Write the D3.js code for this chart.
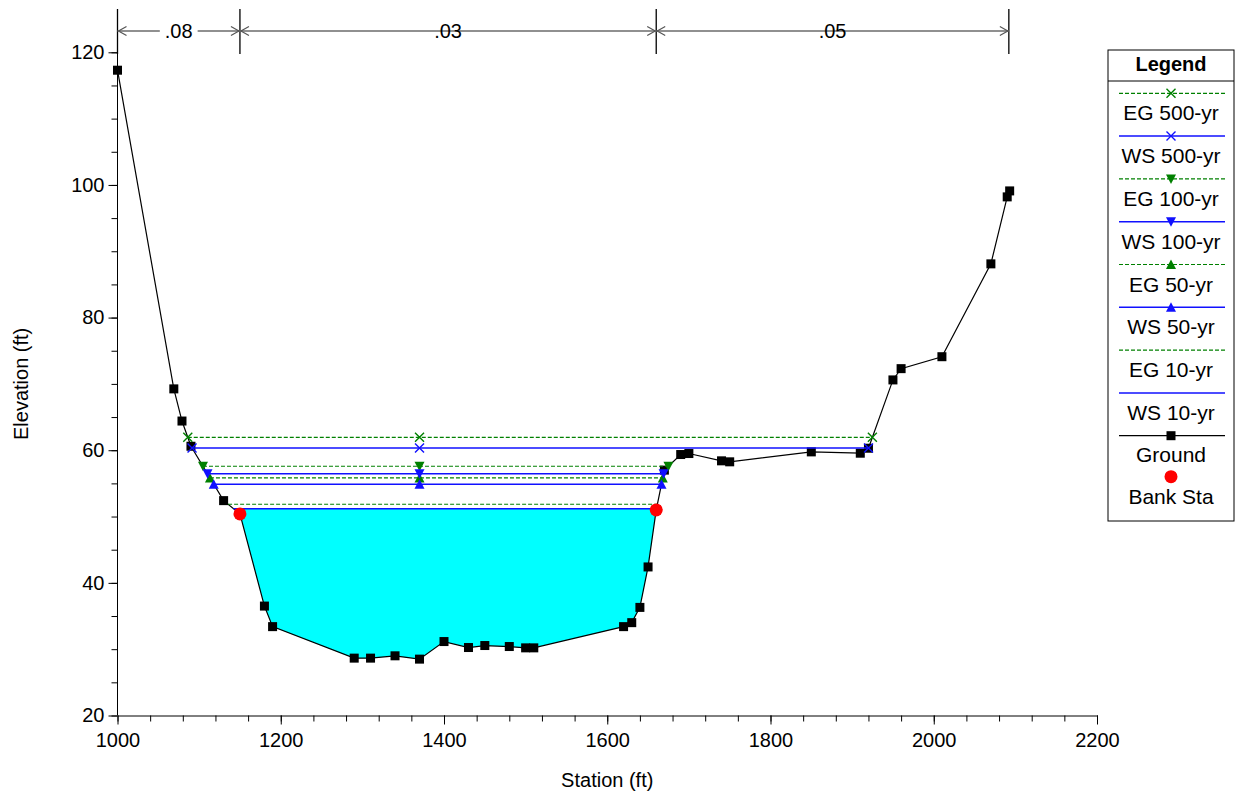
<!DOCTYPE html>
<html><head><meta charset="utf-8">
<script src="https://cdn.jsdelivr.net/npm/d3@7"></script>
<style>
html,body{margin:0;padding:0;background:#fff;}
svg{display:block;font-family:Arial,"Liberation Sans",sans-serif;}
</style></head>
<body><svg id="c" width="1235" height="794"></svg>
<script>
// ---- data ----
const groundSta  = [1000, 1069, 1079, 1090, 1130, 1150, 1180, 1190, 1290, 1310, 1340, 1370, 1400, 1430, 1450, 1480, 1500, 1510, 1620, 1630, 1640, 1650, 1660, 1670, 1690, 1700, 1740, 1750, 1850, 1910, 1920, 1950, 1960, 2010, 2070, 2090, 2093];
const groundElev = [117.3, 69.25, 64.4, 60.6, 52.4, 50.4, 36.5, 33.4, 28.65, 28.65, 29.0, 28.5, 31.15, 30.25, 30.55, 30.4, 30.2, 30.2, 33.4, 34.0, 36.3, 42.4, 51.0, 57.0, 59.35, 59.5, 58.4, 58.25, 59.75, 59.55, 60.3, 70.6, 72.3, 74.1, 88.1, 98.2, 99.1];
const bankSta  = [1150, 1660];
const bankElev = [50.4, 51.0];
const profiles = ["500-yr", "100-yr", "50-yr", "10-yr"];
const wsElev = [60.33, 56.44, 54.88, 51.19];
const egElev = [61.95, 57.58, 55.83, 51.85];
const midStation = 1370;
const nValues   = [".08", ".03", ".05"];
const nStations = [1000, 1150, 1660, 2092];
const xTicks = [1000, 1200, 1400, 1600, 1800, 2000, 2200];
const yTicks = [20, 40, 60, 80, 100, 120];

// ---- setup ----
const svg = d3.select("#c");
const x = d3.scaleLinear().domain([1000, 2200]).range([117.5, 1097]);
const y = d3.scaleLinear().domain([20, 120]).range([715.5, 52.3]);
const FONT = 20;
const EG = "#008000", WS = "#1010ff";
const markerType = {"500-yr": "x", "100-yr": "down", "50-yr": "up", "10-yr": null};

// crossing of a level with ground, walking out from thalweg
const thal = groundElev.indexOf(d3.min(groundElev));
function crossing(L) {
  let i = thal;
  while (i > 0 && groundElev[i - 1] <= L) i--;
  let left = groundSta[i];
  if (i > 0) {
    const a = i - 1, b = i;
    left = groundSta[a] + (groundElev[a] - L) / (groundElev[a] - groundElev[b]) * (groundSta[b] - groundSta[a]);
  }
  let j = thal;
  while (j < groundSta.length - 1 && groundElev[j + 1] <= L) j++;
  let right = groundSta[j];
  if (j < groundSta.length - 1) {
    const a = j, b = j + 1;
    right = groundSta[a] + (L - groundElev[a]) / (groundElev[b] - groundElev[a]) * (groundSta[b] - groundSta[a]);
  }
  return {left, right, i, j};
}

// ---- axes ----
const xMinor = d3.range(1000, 2201, 40);
const yMinor = d3.range(20, 121, 5);
const gx = svg.append("g").attr("transform", `translate(0,${y(20)})`);
gx.call(d3.axisBottom(x).tickValues(xMinor).tickSize(6).tickSizeOuter(0).tickFormat(""));
gx.call(g => g.select(".domain").remove());
const gx2 = svg.append("g").attr("transform", `translate(0,${y(20)})`)
  .call(d3.axisBottom(x).tickValues(xTicks).tickSize(9).tickSizeOuter(0).tickPadding(8).tickFormat(d3.format("d")));
gx2.selectAll("text").attr("font-size", FONT).attr("fill", "#000").attr("font-family", "Arial, 'Liberation Sans', sans-serif");
svg.selectAll(".domain").attr("stroke", "#000");
svg.selectAll(".tick line").attr("stroke", "#000");

const gy = svg.append("g").attr("transform", `translate(${x(1000)},0)`)
  .call(d3.axisLeft(y).tickValues(yMinor).tickSize(6).tickSizeOuter(0).tickFormat(""));
gy.select(".domain").remove();
const gy2 = svg.append("g").attr("transform", `translate(${x(1000)},0)`)
  .call(d3.axisLeft(y).tickValues(yTicks).tickSize(9).tickSizeOuter(0).tickPadding(4).tickFormat(d3.format("d")));
gy2.select(".domain").remove();
gy2.selectAll("text").attr("font-size", FONT).attr("fill", "#000").attr("font-family", "Arial, 'Liberation Sans', sans-serif");
svg.selectAll(".tick line").attr("stroke", "#000");
svg.append("line").attr("x1", x(1000)).attr("x2", x(1000)).attr("y1", y(20)).attr("y2", 9)
  .attr("stroke", "#000").attr("stroke-width", 1);

svg.append("text").attr("x", (x(1000) + x(2200)) / 2).attr("y", 787).attr("text-anchor", "middle")
  .attr("font-size", FONT).text("Station (ft)");
svg.append("text").attr("transform", `translate(28,${(y(20) + y(120)) / 2}) rotate(-90)`)
  .attr("text-anchor", "middle").attr("font-size", FONT).text("Elevation (ft)");

// ---- water fill (lowest profile) ----
const lowIdx = profiles.length - 1;
{
  const L = wsElev[lowIdx];
  const c = crossing(L);
  const pts = [[c.left, L]];
  for (let k = c.i; k <= c.j; k++) pts.push([groundSta[k], groundElev[k]]);
  pts.push([c.right, L]);
  svg.append("path").attr("d", d3.line().x(d => x(d[0])).y(d => y(d[1]))(pts) + "Z")
    .attr("fill", "#00ffff").attr("stroke", "none");
}

// ---- ground ----
const gData = groundSta.map((s, k) => [s, groundElev[k]]);
svg.append("path").attr("d", d3.line().x(d => x(d[0])).y(d => y(d[1]))(gData))
  .attr("fill", "none").attr("stroke", "#000").attr("stroke-width", 1.2);
svg.selectAll("rect.gp").data(gData).enter().append("rect").attr("class", "gp")
  .attr("x", d => x(d[0]) - 4.5).attr("y", d => y(d[1]) - 4.5).attr("width", 9).attr("height", 9).attr("fill", "#000");

// ---- marker helper ----
function marker(g, type, cx, cy, color) {
  if (!type) return;
  if (type === "x") {
    g.append("path").attr("d", `M${cx - 4.5},${cy - 4.5}L${cx + 4.5},${cy + 4.5}M${cx - 4.5},${cy + 4.5}L${cx + 4.5},${cy - 4.5}`)
      .attr("stroke", color).attr("stroke-width", 1.4).attr("fill", "none");
  } else if (type === "down") {
    g.append("path").attr("d", `M${cx - 5},${cy - 4.5}L${cx + 5},${cy - 4.5}L${cx},${cy + 5}Z`).attr("fill", color);
  } else if (type === "up") {
    g.append("path").attr("d", `M${cx - 5},${cy + 4.5}L${cx + 5},${cy + 4.5}L${cx},${cy - 5}Z`).attr("fill", color);
  }
}

// ---- profile lines (draw low to high) ----
const gl = svg.append("g");
for (let p = profiles.length - 1; p >= 0; p--) {
  const mt = markerType[profiles[p]];
  [[egElev[p], EG, true], [wsElev[p], WS, false]].forEach(([L, col, dashed]) => {
    const c = crossing(L);
    gl.append("line").attr("x1", x(c.left)).attr("x2", x(c.right)).attr("y1", y(L)).attr("y2", y(L))
      .attr("stroke", col).attr("stroke-width", dashed ? 1.2 : 1.5)
      .attr("stroke-dasharray", dashed ? "4,2" : null);
    [c.left, midStation, c.right].forEach(s => marker(gl, mt, x(s), y(L), col));
  });
}

// ---- bank stations ----
svg.selectAll("circle.bank").data(bankSta).enter().append("circle").attr("class", "bank")
  .attr("cx", d => x(d)).attr("cy", (d, k) => y(bankElev[k])).attr("r", 6.5).attr("fill", "#ff0000");

// ---- Manning's n markers ----
const gn = svg.append("g");
const nY = 31;
nStations.forEach(s => gn.append("line").attr("x1", x(s)).attr("x2", x(s)).attr("y1", 9).attr("y2", 54)
  .attr("stroke", "#000").attr("stroke-width", 1.3));
nValues.forEach((v, k) => {
  const x1 = x(nStations[k]), x2 = x(nStations[k + 1]);
  gn.append("line").attr("x1", x1).attr("x2", x2).attr("y1", nY).attr("y2", nY)
    .attr("stroke", "#6b6b6b").attr("stroke-width", 1.5);
  gn.append("path").attr("d", `M${x1 + 9},${nY - 4.5}L${x1 + 1},${nY}L${x1 + 9},${nY + 4.5}M${x2 - 9},${nY - 4.5}L${x2 - 1},${nY}L${x2 - 9},${nY + 4.5}`)
    .attr("stroke", "#555").attr("stroke-width", 1.2).attr("fill", "none");
  const t = gn.append("text").attr("x", (x1 + x2) / 2).attr("y", nY + 7).attr("text-anchor", "middle")
    .attr("font-size", FONT).text(v);
  const bb = t.node().getBBox();
  gn.insert("rect", "text").attr("x", bb.x - 5).attr("y", nY - 3).attr("width", bb.width + 10).attr("height", 6).attr("fill", "#fff");
});

// ---- legend ----
const lg = svg.append("g");
const LX0 = 1108, LX1 = 1234, LCX = 1171, LF = 21;
lg.append("rect").attr("x", LX0).attr("y", 50).attr("width", LX1 - LX0).attr("height", 471)
  .attr("fill", "#fff").attr("stroke", "#000").attr("stroke-width", 1);
lg.append("line").attr("x1", LX0).attr("x2", LX1).attr("y1", 81).attr("y2", 81).attr("stroke", "#000");
lg.append("text").attr("x", LCX).attr("y", 71).attr("text-anchor", "middle").attr("font-size", FONT)
  .attr("font-weight", "bold").text("Legend");
const entries = [];
profiles.forEach(p => {
  entries.push({label: "EG " + p, col: EG, dashed: true, mt: markerType[p]});
  entries.push({label: "WS " + p, col: WS, dashed: false, mt: markerType[p]});
});
entries.forEach((e, k) => {
  const ly = 93.3 + 42.8 * k;
  lg.append("line").attr("x1", 1119).attr("x2", 1225).attr("y1", ly).attr("y2", ly)
    .attr("stroke", e.col).attr("stroke-width", e.dashed ? 1.2 : 1.5).attr("stroke-dasharray", e.dashed ? "4,2" : null);
  marker(lg, e.mt, LCX, ly, e.col);
  lg.append("text").attr("x", LCX).attr("y", ly + 27).attr("text-anchor", "middle").attr("font-size", LF).text(e.label);
});
{
  const ly = 93.3 + 42.8 * entries.length;
  lg.append("line").attr("x1", 1119).attr("x2", 1225).attr("y1", ly).attr("y2", ly).attr("stroke", "#000").attr("stroke-width", 1.2);
  lg.append("rect").attr("x", LCX - 4.5).attr("y", ly - 4.5).attr("width", 9).attr("height", 9).attr("fill", "#000");
  lg.append("text").attr("x", LCX).attr("y", ly + 26).attr("text-anchor", "middle").attr("font-size", LF).text("Ground");
  const by = 476.7;
  lg.append("circle").attr("cx", LCX).attr("cy", by).attr("r", 6.5).attr("fill", "#ff0000");
  lg.append("text").attr("x", LCX).attr("y", by + 27).attr("text-anchor", "middle").attr("font-size", LF).text("Bank Sta");
}
</script></body></html>
